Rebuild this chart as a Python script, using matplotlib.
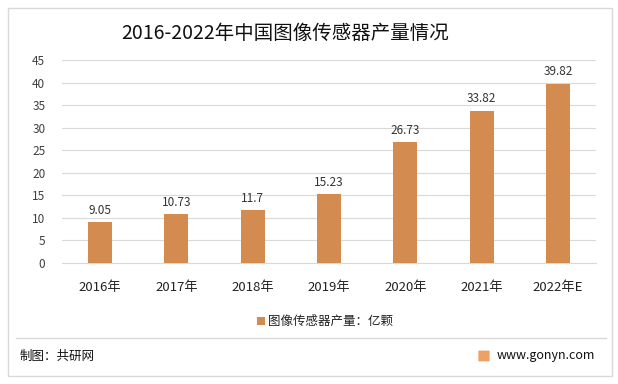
import matplotlib
matplotlib.use("Agg")
import matplotlib.pyplot as plt
from matplotlib.patches import Rectangle, FancyBboxPatch
from matplotlib.lines import Line2D

plt.rcParams['font.family'] = ['Noto Sans CJK SC', 'DejaVu Sans']

categories = ["2016年", "2017年", "2018年", "2019年", "2020年", "2021年", "2022年E"]
values = [9.05, 10.73, 11.7, 15.23, 26.73, 33.82, 39.82]
value_labels = ["9.05", "10.73", "11.7", "15.23", "26.73", "33.82", "39.82"]
yticks = [0, 5, 10, 15, 20, 25, 30, 35, 40, 45]
title = "2016-2022年中国图像传感器产量情况"
series_name = "图像传感器产量：亿颗"

W, H = 618, 384
fig = plt.figure(figsize=(W / 100, H / 100), dpi=100)
fig.patch.set_facecolor("white")

# outer border
fig.add_artist(Rectangle((8 / W, 1 - 376 / H), 604 / W, 368 / H, transform=fig.transFigure,
                         fill=False, edgecolor="#D9D9D9", linewidth=1.0))
# separator line
fig.add_artist(Line2D([16 / W, 606 / W], [1 - 338 / H, 1 - 338 / H], transform=fig.transFigure,
                      color="#D9D9D9", linewidth=1.0))

ax = fig.add_axes([62 / W, 1 - 262.7 / H, 534 / W, 202.5 / H])
color = "#D48B4F"
x = range(len(categories))
bars = ax.bar(x, values, width=0.315, color=color, zorder=3)
for xi, v, lab in zip(x, values, value_labels):
    ax.text(xi, v + 1.2, lab, ha="center", va="bottom", fontsize=8.5, color="#333333")

ax.set_ylim(0, 45)
ax.set_xlim(-0.5, len(categories) - 0.5)
ax.set_yticks(yticks)
ax.set_yticklabels([str(t) for t in yticks], fontsize=8.5, color="#404040")
ax.set_xticks(list(x))
ax.set_xticklabels(categories, fontsize=9.5, color="#222222")
ax.tick_params(axis="both", length=0)
ax.tick_params(axis="x", pad=13)
ax.tick_params(axis="y", pad=12)
ax.grid(axis="y", color="#D9D9D9", linewidth=0.8, zorder=0)
for s in ["top", "right", "left"]:
    ax.spines[s].set_visible(False)
ax.spines["bottom"].set_color("#D9D9D9")
ax.spines["bottom"].set_linewidth(0.8)

fig.text(285 / W, 1 - 33 / H, title, ha="center", va="center", fontsize=14, color="#111111")

# legend
fig.add_artist(Rectangle((257 / W, 1 - 325 / H), 8 / W, 8 / H, transform=fig.transFigure,
                         facecolor=color, edgecolor="none"))
fig.text(268 / W, 1 - 321 / H, series_name, ha="left", va="center", fontsize=9, color="#222222")

# footer
fig.text(20 / W, 1 - 356 / H, "制图：共研网", ha="left", va="center", fontsize=9, color="#111111")
fig.add_artist(FancyBboxPatch((479 / W, 1 - 361 / H), 10 / W, 10 / H, transform=fig.transFigure,
                              boxstyle="round,pad=0.001", facecolor="#F0A060", edgecolor="none"))
fig.text(595 / W, 1 - 356 / H, "www.gonyn.com", ha="right", va="center", fontsize=9, color="#111111")

fig.savefig("out.png", dpi=100, facecolor="white")
